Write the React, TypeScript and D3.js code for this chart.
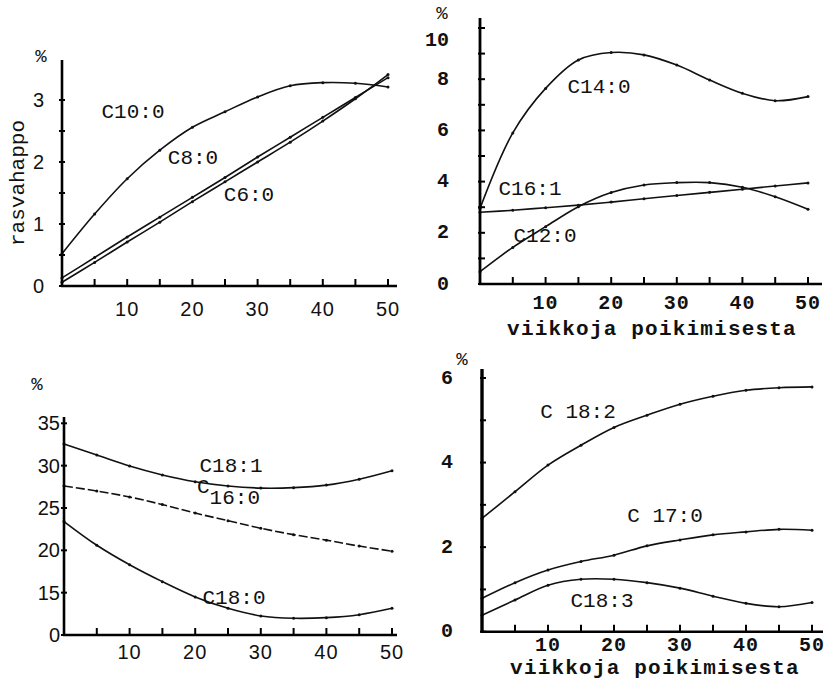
import React from "react";
import * as d3 from "d3";

// ---- data ----
const weeks = [0, 5, 10, 15, 20, 25, 30, 35, 40, 45, 50];
const xTickValues = [0, 5, 10, 15, 20, 25, 30, 35, 40, 45, 50];
const xTickLabels = ["", "", "10", "", "20", "", "30", "", "40", "", "50"];

// panel 1
const C10_0 = [0.52, 1.16, 1.73, 2.19, 2.56, 2.81, 3.05, 3.23, 3.28, 3.27, 3.21];
const C8_0 = [0.13, 0.46, 0.79, 1.11, 1.43, 1.75, 2.08, 2.4, 2.72, 3.04, 3.36];
const C6_0 = [0.06, 0.38, 0.71, 1.03, 1.36, 1.68, 2.0, 2.32, 2.66, 3.02, 3.41];
const p1YTicks = [0, 0.5, 1, 1.5, 2, 2.5, 3];
const p1YLabels = ["0", "", "1", "", "2", "", "3"];

// panel 2
const C14_0 = [2.95, 5.9, 7.64, 8.75, 9.04, 8.95, 8.55, 7.97, 7.45, 7.16, 7.32];
const C16_1 = [2.8, 2.88, 2.98, 3.08, 3.2, 3.33, 3.46, 3.58, 3.7, 3.83, 3.95];
const C12_0 = [0.48, 1.43, 2.24, 3.02, 3.57, 3.87, 3.96, 3.96, 3.78, 3.41, 2.92];
const p2YTicks = [0, 1, 2, 3, 4, 5, 6, 7, 8, 9, 10];
const p2YLabels = ["0", "", "2", "", "4", "", "6", "", "8", "", "10"];

// panel 3 (broken axis: bottom tick stands for the axis origin)
const C18_1 = [32.55, 31.25, 29.95, 28.9, 28.1, 27.6, 27.35, 27.4, 27.7, 28.4, 29.4];
const C16_0 = [27.6, 27.0, 26.3, 25.4, 24.4, 23.5, 22.6, 21.85, 21.2, 20.5, 19.9];
const C18_0 = [23.4, 20.6, 18.3, 16.3, 14.5, 13.15, 12.25, 11.97, 12.05, 12.4, 13.15];
const p3YTicks = [10, 15, 20, 25, 30, 35];
const p3YLabels = ["0", "15", "20", "25", "30", "35"];

// panel 4
const C18_2 = [2.68, 3.31, 3.94, 4.41, 4.83, 5.12, 5.38, 5.57, 5.71, 5.77, 5.79];
const C17_0 = [0.79, 1.16, 1.46, 1.66, 1.81, 2.03, 2.17, 2.29, 2.36, 2.42, 2.4];
const C18_3 = [0.39, 0.75, 1.1, 1.24, 1.24, 1.16, 1.03, 0.84, 0.67, 0.59, 0.69];
const p4YTicks = [0, 1, 2, 3, 4, 5, 6];
const p4YLabels = ["0", "", "2", "", "4", "", "6"];

const xTitle = "viikkoja poikimisesta";
const yTitle = "rasvahappo";

const MONO = "'Liberation Mono', 'DejaVu Sans Mono', monospace";
const SANS = "'Liberation Sans', Arial, sans-serif";

type Series = { values: number[]; label: string; lx: number; ly: number; dash?: string; sub?: string };

type PanelCfg = {
  x0: number; x1: number; xAxisEnd: number;
  yDomain: [number, number]; yRange: [number, number]; yAxisTop: number;
  yTicks: number[]; yLabels: string[]; yLabelX: number; topLabelDy: number;
  xLabelY: number; tickFont: string; tickWeight: number;
  percentX: number; percentY: number;
  series: Series[];
  xTitleY?: number;
  yTickLeft: number; yTickRight: number; axisWidth: number;
};

function Panel({ cfg }: { cfg: PanelCfg }) {
  const x = d3.scaleLinear().domain([0, 50]).range([cfg.x0, cfg.x1]);
  const y = d3.scaleLinear().domain(cfg.yDomain).range(cfg.yRange);
  const yBase = cfg.yRange[0];
  const line = d3
    .line<number>()
    .x((_, i) => x(weeks[i]))
    .y((d) => y(d))
    .curve(d3.curveCatmullRom.alpha(0.5));
  const lastIdx = cfg.yTicks.length - 1;
  return (
    <g>
      {cfg.series.map((s, k) => (
        <g key={k}>
          <path d={line(s.values) || ""} fill="none" stroke="#111" strokeWidth={1.6} strokeDasharray={s.dash} />
          {s.values.map((v, i) => (
            <circle key={i} cx={x(weeks[i])} cy={y(v)} r={1.5} fill="#111" />
          ))}
          {s.sub ? (
            <text x={s.lx} y={s.ly} style={{ fontFamily: MONO }} fontSize={21} fill="#111" dominantBaseline="central">
              {s.label}
              <tspan dy={11}>{s.sub}</tspan>
            </text>
          ) : (
            <text x={s.lx} y={s.ly} style={{ fontFamily: MONO }} fontSize={21} fill="#111" textAnchor="middle" dominantBaseline="central">
              {s.label}
            </text>
          )}
        </g>
      ))}
      <line x1={cfg.x0} x2={cfg.x0} y1={yBase + 1} y2={cfg.yAxisTop} stroke="#000" strokeWidth={cfg.axisWidth} />
      <line x1={cfg.x0 - 1} x2={cfg.xAxisEnd} y1={yBase} y2={yBase} stroke="#000" strokeWidth={2.6} />
      {cfg.yTicks.map((t, i) => (
        <g key={"yt" + i}>
          <line x1={cfg.x0 - cfg.yTickLeft} x2={cfg.x0 + cfg.yTickRight} y1={y(t)} y2={y(t)} stroke="#000" strokeWidth={2} />
          {cfg.yLabels[i] && (
            <text x={cfg.yLabelX} y={y(t) + (i === lastIdx ? cfg.topLabelDy : 0)} textAnchor="end" dominantBaseline="central" style={{ fontFamily: cfg.tickFont }} fontWeight={cfg.tickWeight} fontSize={20} fill="#111">
              {cfg.yLabels[i]}
            </text>
          )}
        </g>
      ))}
      {xTickValues.map((t, i) => (
        <g key={"xt" + i}>
          <line x1={x(t)} x2={x(t)} y1={yBase} y2={yBase - 7} stroke="#000" strokeWidth={2} />
          {xTickLabels[i] && (
            <text x={x(t)} y={cfg.xLabelY} textAnchor="middle" dominantBaseline="central" style={{ fontFamily: cfg.tickFont }} fontWeight={cfg.tickWeight} fontSize={20} fill="#111" letterSpacing={1}>
              {xTickLabels[i]}
            </text>
          )}
        </g>
      ))}
      <text x={cfg.percentX} y={cfg.percentY} style={{ fontFamily: MONO }} fontSize={19} textAnchor="middle" dominantBaseline="central" fill="#111">
        %
      </text>
      {cfg.xTitleY !== undefined && (
        <text x={(cfg.x0 + cfg.x1) / 2 + 8} y={cfg.xTitleY} textAnchor="middle" dominantBaseline="central" style={{ fontFamily: MONO }} fontWeight={700} fontSize={21} letterSpacing={1.2} fill="#111">
          {xTitle}
        </text>
      )}
    </g>
  );
}

export default function App() {
  const panels: PanelCfg[] = [
    {
      x0: 62, x1: 388, xAxisEnd: 397, yDomain: [0, 3], yRange: [286, 100], yAxisTop: 60,
      yTicks: p1YTicks, yLabels: p1YLabels, yLabelX: 44, topLabelDy: 0, xLabelY: 309, tickFont: SANS, tickWeight: 400,
      percentX: 41, percentY: 57, yTickLeft: 3, yTickRight: 3, axisWidth: 2.6,
      series: [
        { values: C10_0, label: "C10:0", lx: 133, ly: 112 },
        { values: C8_0, label: "C8:0", lx: 193, ly: 158 },
        { values: C6_0, label: "C6:0", lx: 249, ly: 195 },
      ],
    },
    {
      x0: 480, x1: 808, xAxisEnd: 822, yDomain: [0, 10], yRange: [284, 28], yAxisTop: 18,
      yTicks: p2YTicks, yLabels: p2YLabels, yLabelX: 449, topLabelDy: 12, xLabelY: 303, tickFont: MONO, tickWeight: 700,
      percentX: 442, percentY: 14, yTickLeft: 2, yTickRight: 5, xTitleY: 329, axisWidth: 2.8,
      series: [
        { values: C14_0, label: "C14:0", lx: 599, ly: 87 },
        { values: C16_1, label: "C16:1", lx: 530, ly: 189 },
        { values: C12_0, label: "C12:0", lx: 545, ly: 236 },
      ],
    },
    {
      x0: 64, x1: 392, xAxisEnd: 397, yDomain: [10, 35], yRange: [635, 423.3], yAxisTop: 417,
      yTicks: p3YTicks, yLabels: p3YLabels, yLabelX: 60, topLabelDy: 0, xLabelY: 652, tickFont: SANS, tickWeight: 400,
      percentX: 37, percentY: 385, yTickLeft: 3, yTickRight: 3, axisWidth: 2.6,
      series: [
        { values: C18_1, label: "C18:1", lx: 231, ly: 466 },
        { values: C16_0, label: "C", sub: "16:0", lx: 197, ly: 487, dash: "9 3" },
        { values: C18_0, label: "C18:0", lx: 234, ly: 598 },
      ],
    },
    {
      x0: 482, x1: 812, xAxisEnd: 823, yDomain: [0, 6], yRange: [631.7, 378], yAxisTop: 369,
      yTicks: p4YTicks, yLabels: p4YLabels, yLabelX: 453, topLabelDy: 0, xLabelY: 645, tickFont: MONO, tickWeight: 700,
      percentX: 462, percentY: 360, yTickLeft: 2, yTickRight: 4, xTitleY: 668, axisWidth: 3.4,
      series: [
        { values: C18_2, label: "C 18:2", lx: 578, ly: 412 },
        { values: C17_0, label: "C 17:0", lx: 665, ly: 516 },
        { values: C18_3, label: "C18:3", lx: 602, ly: 601 },
      ],
    },
  ];
  return (
    <svg width={832} height={681} style={{ position: "absolute", left: 0, top: 0, background: "#fff" }}>
      <rect width={832} height={681} fill="#fff" />
      {panels.map((p, i) => (
        <Panel key={i} cfg={p} />
      ))}
      <text transform="translate(18,183) rotate(-90)" textAnchor="middle" dominantBaseline="central" style={{ fontFamily: MONO }} fontSize={21} fill="#111">
        {yTitle}
      </text>
    </svg>
  );
}
